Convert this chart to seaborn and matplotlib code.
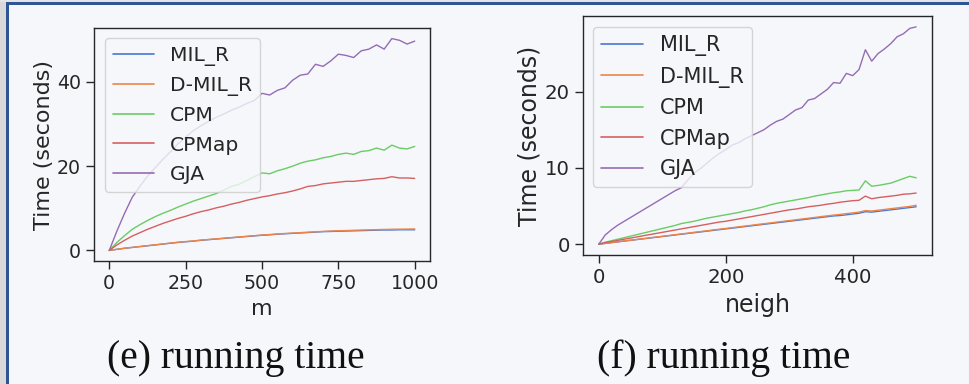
import numpy as np
import pandas as pd
import matplotlib
matplotlib.use("Agg")
import matplotlib.pyplot as plt
import seaborn as sns
from matplotlib.patches import Rectangle

# ---------------- data: panel (e) running time vs m ----------------
m_vals = [0, 25, 50, 75, 100, 125, 150, 175, 200, 225, 250, 275, 300, 325, 350, 375,
          400, 425, 450, 475, 500, 525, 550, 575, 600, 625, 650, 675, 700, 725, 750,
          775, 800, 825, 850, 875, 900, 925, 950, 975, 1000]
e_mil_r = [0, 0.25, 0.5, 0.7, 0.9, 1.1, 1.3, 1.5, 1.7, 1.9, 2.05, 2.2, 2.4, 2.55, 2.7, 2.85,
           3.0, 3.15, 3.3, 3.45, 3.6, 3.7, 3.85, 3.95, 4.05, 4.15, 4.25, 4.35, 4.45, 4.5, 4.55,
           4.6, 4.65, 4.7, 4.75, 4.8, 4.85, 4.85, 4.9, 4.9, 4.9]
e_dmil_r = [0, 0.27, 0.52, 0.73, 0.93, 1.13, 1.33, 1.53, 1.74, 1.93, 2.1, 2.25, 2.45, 2.6, 2.75, 2.9,
            3.05, 3.2, 3.35, 3.5, 3.65, 3.78, 3.9, 4.02, 4.12, 4.22, 4.32, 4.42, 4.52, 4.6, 4.66,
            4.72, 4.78, 4.83, 4.88, 4.93, 4.98, 5.02, 5.05, 5.07, 5.1]
e_cpm = [0, 1.9, 3.5, 5.0, 6.1, 7.1, 8.0, 8.8, 9.5, 10.3, 11.0, 11.7, 12.3, 12.9, 13.5, 14.3,
         15.2, 15.7, 16.6, 17.5, 18.4, 18.2, 18.9, 19.4, 20.0, 20.7, 21.2, 21.5, 22.0, 22.3, 22.8,
         23.1, 22.8, 23.5, 23.7, 24.3, 23.8, 25.0, 24.3, 24.1, 24.7]
e_cpmap = [0, 1.3, 2.4, 3.4, 4.2, 5.0, 5.7, 6.4, 7.0, 7.6, 8.1, 8.7, 9.2, 9.6, 10.1, 10.5,
           11.0, 11.4, 11.9, 12.3, 12.7, 13.0, 13.4, 13.7, 14.1, 14.6, 15.2, 15.4, 15.8, 16.0, 16.2,
           16.4, 16.4, 16.6, 16.8, 17.0, 17.1, 17.5, 17.2, 17.2, 17.1]
e_gja = [0, 4.6, 8.8, 12.6, 15.2, 17.6, 19.6, 21.6, 23.4, 25.3, 26.9, 28.4, 29.6, 30.6, 31.6, 32.4,
         33.3, 34.0, 34.9, 35.6, 37.3, 36.9, 38.0, 38.6, 40.4, 41.6, 41.9, 44.2, 43.7, 45.0, 46.6,
         46.3, 45.8, 47.4, 47.8, 48.8, 47.8, 50.3, 49.9, 49.0, 49.7]

# ---------------- data: panel (f) running time vs neigh ----------------
n_vals = [0, 10, 20, 30, 40, 50, 60, 70, 80, 90, 100, 110, 120, 130, 140, 150, 160, 170, 180,
          190, 200, 210, 220, 230, 240, 250, 260, 270, 280, 290, 300, 310, 320, 330, 340, 350,
          360, 370, 380, 390, 400, 410, 420, 430, 440, 450, 460, 470, 480, 490, 500]
f_mil_r = [0, 0.1, 0.2, 0.3, 0.4, 0.5, 0.6, 0.7, 0.8, 0.9, 1.0, 1.1, 1.2, 1.3, 1.4, 1.5, 1.6, 1.7, 1.8,
           1.9, 2.0, 2.1, 2.2, 2.3, 2.4, 2.5, 2.6, 2.7, 2.8, 2.9, 3.0, 3.1, 3.2, 3.3, 3.4, 3.5,
           3.6, 3.7, 3.75, 3.85, 3.95, 4.05, 4.25, 4.2, 4.3, 4.4, 4.5, 4.6, 4.7, 4.8, 4.9]
f_dmil_r = [0, 0.1, 0.21, 0.31, 0.42, 0.52, 0.62, 0.72, 0.83, 0.93, 1.03, 1.13, 1.24, 1.34, 1.44, 1.55,
            1.65, 1.75, 1.86, 1.96, 2.06, 2.16, 2.27, 2.37, 2.47, 2.58, 2.68, 2.78, 2.89, 2.99, 3.09,
            3.19, 3.3, 3.4, 3.5, 3.61, 3.71, 3.81, 3.9, 4.0, 4.1, 4.2, 4.4, 4.35, 4.45, 4.55, 4.65,
            4.75, 4.85, 4.95, 5.1]
f_cpm = [0, 0.25, 0.45, 0.65, 0.85, 1.05, 1.25, 1.45, 1.65, 1.85, 2.05, 2.25, 2.45, 2.7, 2.85, 3.0,
         3.2, 3.4, 3.55, 3.7, 3.85, 4.0, 4.15, 4.35, 4.5, 4.7, 4.9, 5.15, 5.35, 5.5, 5.65, 5.8,
         5.95, 6.1, 6.3, 6.45, 6.6, 6.75, 6.85, 7.0, 7.05, 7.1, 8.3, 7.6, 7.7, 7.85, 8.0, 8.3,
         8.6, 8.9, 8.7]
f_cpmap = [0, 0.2, 0.35, 0.5, 0.65, 0.8, 0.95, 1.1, 1.25, 1.4, 1.55, 1.7, 1.85, 2.0, 2.15, 2.3,
           2.45, 2.6, 2.75, 2.9, 3.0, 3.15, 3.3, 3.45, 3.6, 3.75, 3.9, 4.05, 4.2, 4.35, 4.5, 4.6,
           4.75, 4.9, 5.0, 5.1, 5.25, 5.35, 5.5, 5.6, 5.7, 5.75, 6.3, 5.95, 6.1, 6.2, 6.3, 6.4,
           6.55, 6.6, 6.7]
f_gja = [0, 1.2, 1.9, 2.5, 3.0, 3.5, 4.0, 4.5, 5.0, 5.5, 6.0, 6.5, 7.0, 7.4, 8.4, 9.3, 9.9,
         10.6, 11.3, 11.9, 12.4, 13.0, 13.3, 13.8, 14.2, 14.6, 15.0, 15.6, 16.1, 16.4, 17.0,
         17.6, 17.9, 18.9, 19.1, 19.7, 20.3, 21.2, 21.1, 22.4, 22.1, 22.9, 25.5, 24.0, 25.0,
         25.6, 26.3, 27.2, 27.6, 28.3, 28.5]

methods = ["MIL_R", "D-MIL_R", "CPM", "CPMap", "GJA"]
x_ticks_e = [0, 250, 500, 750, 1000]
y_ticks_e = [0, 20, 40]
x_ticks_f = [0, 200, 400]
y_ticks_f = [0, 10, 20]

df_e = pd.concat([pd.DataFrame({"m": m_vals, "time": v, "method": k})
                  for k, v in zip(methods, [e_mil_r, e_dmil_r, e_cpm, e_cpmap, e_gja])])
df_f = pd.concat([pd.DataFrame({"neigh": n_vals, "time": v, "method": k})
                  for k, v in zip(methods, [f_mil_r, f_dmil_r, f_cpm, f_cpmap, f_gja])])

# ---------------- styling ----------------
BG = "#f6f7fb"
sns.set_theme(style="ticks", palette="muted")
plt.rcParams["font.family"] = ["DejaVu Sans"]
plt.rcParams["axes.facecolor"] = BG
plt.rcParams["figure.facecolor"] = BG
pal = sns.color_palette("muted", 5)

W, H = 969, 384
fig = plt.figure(figsize=(W / 100, H / 100), dpi=100)

def ax_rect(l, t, r, b):
    return [l / W, 1 - b / H, (r - l) / W, (b - t) / H]

ax1 = fig.add_axes(ax_rect(94, 28, 430, 261))
ax2 = fig.add_axes(ax_rect(583, 16, 932, 255))

def draw(ax, df, xcol, xlabel, xticks, yticks, tick_fs, lab_fs, leg_fs, leg_anchor, ylab_x):
    sns.lineplot(data=df, x=xcol, y="time", hue="method", hue_order=methods,
                 palette=pal, estimator=None, linewidth=1.0, ax=ax)
    ax.set_xticks(xticks)
    ax.set_yticks(yticks)
    ax.tick_params(labelsize=tick_fs, colors=".15", length=6, width=1.0)
    ax.set_xlabel(xlabel, fontsize=lab_fs, color=".15")
    ax.set_ylabel("Time (seconds)", fontsize=lab_fs, color=".15")
    ax.yaxis.set_label_coords(ylab_x, 0.5)
    for s in ax.spines.values():
        s.set_visible(True)
        s.set_color(".15")
        s.set_linewidth(1.0)
    leg = ax.legend(loc="upper left", bbox_to_anchor=leg_anchor, borderaxespad=0,
                    fontsize=leg_fs, frameon=True, title=None)
    leg.get_frame().set_edgecolor(".8")
    leg.get_frame().set_facecolor(BG)
    leg.get_frame().set_alpha(0.8)
    for line in leg.get_lines():
        line.set_linewidth(1.2)

draw(ax1, df_e, "m", "m", x_ticks_e, y_ticks_e, 13.7, 16, 14.6, (0.033, 0.957), -0.118)
draw(ax2, df_f, "neigh", "neigh", x_ticks_f, y_ticks_f, 14.2, 17, 15, (0.029, 0.954), -0.118)
ax1.set_xlim(-50, 1050)
ax2.set_xlim(-25, 525)

# captions
fig.text(236 / W, 1 - 368 / H, "(e) running time", family="Liberation Serif",
         fontsize=28.5, ha="center", va="baseline", color="#111111")
fig.text(724 / W, 1 - 368 / H, "(f) running time", family="Liberation Serif",
         fontsize=28.5, ha="center", va="baseline", color="#111111")

# page frame decoration
fig.patches.append(Rectangle((0, 0), 6 / W, 1, transform=fig.transFigure,
                             facecolor="#d9d9dc", edgecolor="none", zorder=0))
fig.patches.append(Rectangle((6 / W, 0), 2.5 / W, 1 - 2 / H, transform=fig.transFigure,
                             facecolor="#2f5597", edgecolor="none", zorder=1))
fig.patches.append(Rectangle((0, 1 - 2 / H), 1, 2 / H, transform=fig.transFigure,
                             facecolor="#e4e4e6", edgecolor="none", zorder=0))
fig.patches.append(Rectangle((6 / W, 1 - 4.5 / H), 1, 2.5 / H, transform=fig.transFigure,
                             facecolor="#2f5597", edgecolor="none", zorder=1))

fig.savefig("out.png", dpi=100, facecolor=BG)
